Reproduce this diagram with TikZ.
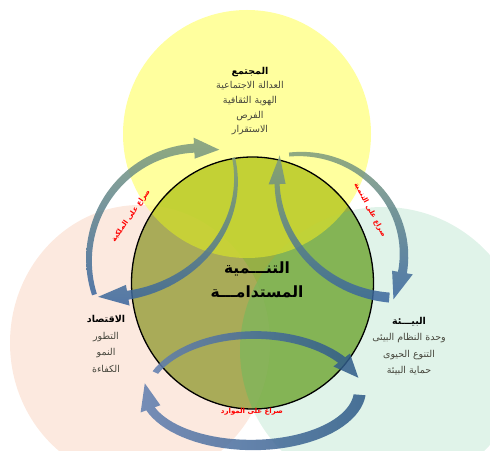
\documentclass[tikz,border=0pt]{standalone}
\usepackage{fontspec}
\newfontfamily\arabicfont[Script=Arabic]{DejaVu Sans}
\TeXXeTstate=1
\definecolor{yellowc}{RGB}{255,255,125}
\definecolor{pinkc}{RGB}{252,233,223}
\definecolor{mintc}{RGB}{224,243,233}
\definecolor{coreb}{RGB}{150,175,70}
\definecolor{corep}{RGB}{176,170,95}
\definecolor{coreg}{RGB}{126,182,91}
\definecolor{corey}{RGB}{207,218,49}
\definecolor{arrgreen}{RGB}{125,155,125}
\definecolor{arrblue}{RGB}{55,100,158}
\definecolor{arrslate}{RGB}{95,125,175}
\definecolor{arrdark}{RGB}{45,90,135}
\definecolor{textc}{RGB}{70,70,60}
% #1 style, #2 centre, #3 #4 radii, #5 tail angle, #6 head base angle, #7 tip angle, #8 tail width, #9 width at head
\newcommand{\arcarrow}[9]{%
  \shade[#1,shift={#2}]
    plot[domain=#5:#6,samples=40]
      ({(#3+(#8+(#9-#8)*(\x-(#5))/(#6-(#5)))/2)*cos(\x)},{(#4+(#8+(#9-#8)*(\x-(#5))/(#6-(#5)))/2)*sin(\x)})
    -- ({(#3+0.5*#9+6)*cos(#6)},{(#4+0.5*#9+6)*sin(#6)})
    -- ({#3*cos(#7)},{#4*sin(#7)})
    -- ({(#3-0.5*#9-6)*cos(#6)},{(#4-0.5*#9-6)*sin(#6)})
    -- plot[domain=#6:#5,samples=40]
      ({(#3-(#8+(#9-#8)*(\x-(#5))/(#6-(#5)))/2)*cos(\x)},{(#4-(#8+(#9-#8)*(\x-(#5))/(#6-(#5)))/2)*sin(\x)})
    -- cycle;}
\begin{document}
\begin{tikzpicture}[x=1pt, y=1pt, line join=round,
  items/.style={font=\arabicfont\fontsize{9.5}{14.7}\selectfont, text=textc, align=center},
  core/.style={font=\arabicfont\bfseries\fontsize{15.5}{24}\selectfont, text=black, align=center},
  clash/.style={font=\arabicfont\bfseries\fontsize{7}{8}\selectfont, text=red},
  uparrow/.style={top color=arrgreen, bottom color=arrblue, fill opacity=0.85},
  lowarrow/.style={left color=arrslate, right color=arrdark, fill opacity=0.85}]
\useasboundingbox (0,0) rectangle (490,450);
% outer circles
\fill[pinkc] (140,107) ellipse [x radius=130, y radius=138];
\fill[mintc] (383,100) circle (143);
\fill[yellowc, fill opacity=0.75] (247,316) circle (124);
% centre circle
\fill[coreb] (252.5,167) ellipse [x radius=121, y radius=126];
\begin{scope}
\clip (252.5,167) ellipse [x radius=121, y radius=126];
\fill[corep, fill opacity=0.75] (140,107) ellipse [x radius=130, y radius=138];
\fill[coreg, fill opacity=0.75] (383,100) circle (143);
\fill[corey, fill opacity=0.8] (247,316) circle (124);
\end{scope}
\draw[line width=1.3pt] (252.5,167) ellipse [x radius=121, y radius=126];
% curved arrows
\arcarrow{uparrow}{(200,190)}{111}{112}{198}{93}{80}{5}{9}
\arcarrow{uparrow}{(105,270)}{131}{117}{11}{-80}{-93}{3}{9}
\arcarrow{uparrow}{(300,195)}{104}{101}{96}{-10}{-26}{4}{9}
\arcarrow{uparrow}{(400,270)}{123}{118}{265}{182}{168}{10}{5}
\arcarrow{lowarrow}{(255,50)}{110}{65}{155}{38}{20}{6}{9}
\arcarrow{lowarrow}{(252,60)}{108}{55}{-5}{-160}{-187}{12}{9}
% texts
\node[items] (society) at (250,349) {\textbf{\textcolor{black}{\beginR المجتمع\endR}}\\ \beginR العدالة الاجتماعية\endR\\ \beginR الهوية الثقافية\endR\\ \beginR الفرص\endR\\ \beginR الاستقرار\endR};
\node[core] (centre) at (257,170) {\beginR التنـــمية\endR\\ \beginR المستدامـــة\endR};
\node[items, font=\arabicfont\fontsize{9.5}{16.5}\selectfont] (economy) at (106,106) {\textbf{\textcolor{black}{\beginR الاقتصاد\endR}}\\ \beginR التطور\endR\\ \beginR النمو\endR\\ \beginR الكفاءة\endR};
\node[items, font=\arabicfont\fontsize{9.5}{16.5}\selectfont] (nature) at (409,104) {\textbf{\textcolor{black}{\beginR البيـــئة\endR}}\\ \beginR وحدة النظام البيئى\endR\\ \beginR التنوع الحيوى\endR\\ \beginR حماية البيئة\endR};
\node[clash, rotate=55] (ownership) at (131,234) {\beginR صراع على الملكية\endR};
\node[clash, rotate=-62] (growth) at (370,240) {\beginR صراع على التنمية\endR};
\node[clash] (resources) at (252,38) {\beginR صراع على الموارد\endR};
\end{tikzpicture}
\end{document}
